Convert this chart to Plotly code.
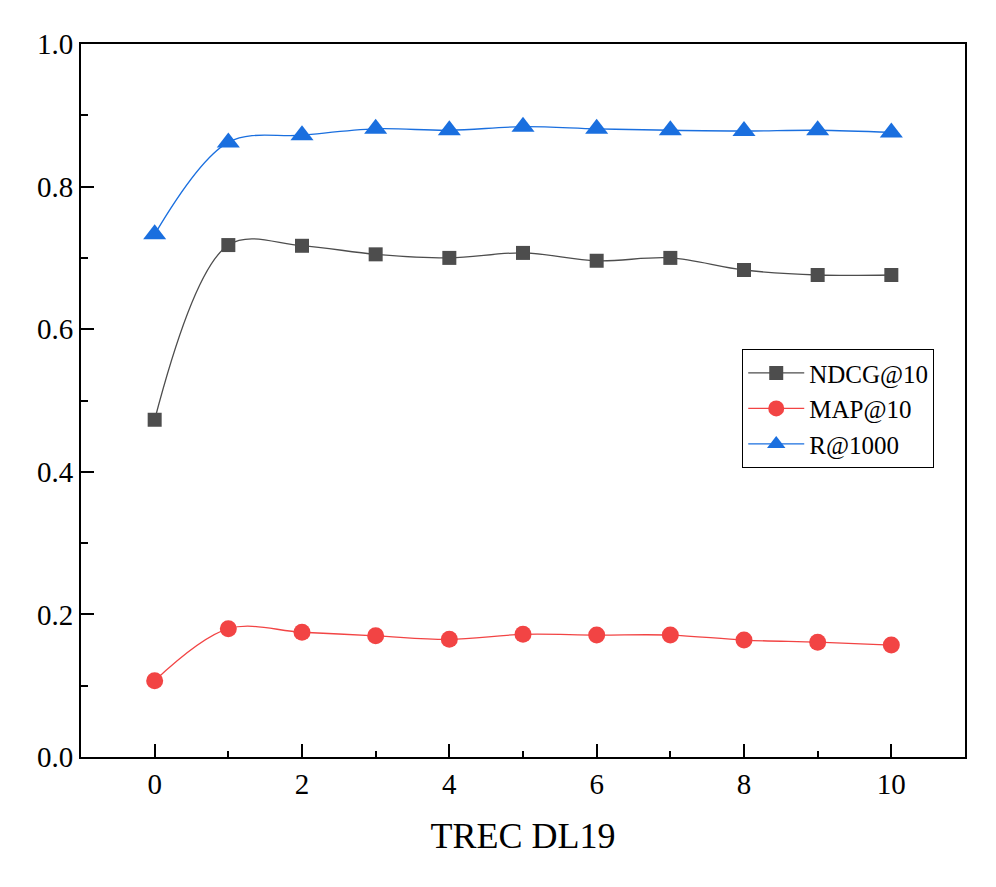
import plotly.graph_objects as go

x_vals = [0, 1, 2, 3, 4, 5, 6, 7, 8, 9, 10]
ndcg = [0.473, 0.718, 0.717, 0.705, 0.700, 0.707, 0.696, 0.700, 0.683, 0.676, 0.676]
map10 = [0.107, 0.180, 0.175, 0.170, 0.165, 0.172, 0.171, 0.171, 0.164, 0.161, 0.157]
r1000 = [0.733, 0.862, 0.872, 0.881, 0.879, 0.884, 0.881, 0.879, 0.878, 0.879, 0.876]
y_ticks = [0.0, 0.2, 0.4, 0.6, 0.8, 1.0]
x_ticks = [0, 2, 4, 6, 8, 10]

FONT = "Liberation Serif"

fig = go.Figure()
fig.add_trace(go.Scatter(x=x_vals, y=ndcg, name="NDCG@10", mode="lines+markers",
                         line=dict(color="#4d4d4d", width=1.3, shape="spline"),
                         marker=dict(symbol="square", size=14, color="#4d4d4d")))
fig.add_trace(go.Scatter(x=x_vals, y=map10, name="MAP@10", mode="lines+markers",
                         line=dict(color="#f24444", width=1.3, shape="spline"),
                         marker=dict(symbol="circle", size=17, color="#f24444")))
fig.add_trace(go.Scatter(x=x_vals, y=r1000, name="R@1000", mode="lines+markers",
                         line=dict(color="#1a6fdf", width=1.3, shape="spline"),
                         marker=dict(symbol="triangle-up", size=20, color="#1a6fdf")))

fig.update_layout(
    width=996, height=887,
    margin=dict(l=73, r=39, t=36, b=138),
    paper_bgcolor="white", plot_bgcolor="white",
    font=dict(family=FONT, size=29, color="black"),
    showlegend=True,
    legend=dict(x=0.748, y=0.572, xanchor="left", yanchor="top",
                bordercolor="black", borderwidth=1, bgcolor="white",
                font=dict(family=FONT, size=25), itemwidth=56,
                tracegroupgap=0),
    xaxis=dict(range=[-1, 11], tickvals=x_ticks,
               ticks="inside", ticklen=13, tickwidth=2, tickcolor="black",
               minor=dict(dtick=1, tick0=0, ticks="inside", ticklen=6, tickwidth=2, tickcolor="black"),
               showline=True, linecolor="black", linewidth=2, mirror=True,
               showgrid=False, zeroline=False,
               tickfont=dict(family=FONT, size=29),
               title=dict(text="TREC DL19", font=dict(family=FONT, size=36), standoff=24)),
    yaxis=dict(range=[0, 1], tickvals=y_ticks, tickformat=".1f",
               ticks="inside", ticklen=13, tickwidth=2, tickcolor="black",
               minor=dict(dtick=0.1, tick0=0, ticks="inside", ticklen=7, tickwidth=2, tickcolor="black"),
               showline=True, linecolor="black", linewidth=2, mirror=True,
               showgrid=False, zeroline=False,
               tickfont=dict(family=FONT, size=29)),
)

fig.write_html("out.html")
